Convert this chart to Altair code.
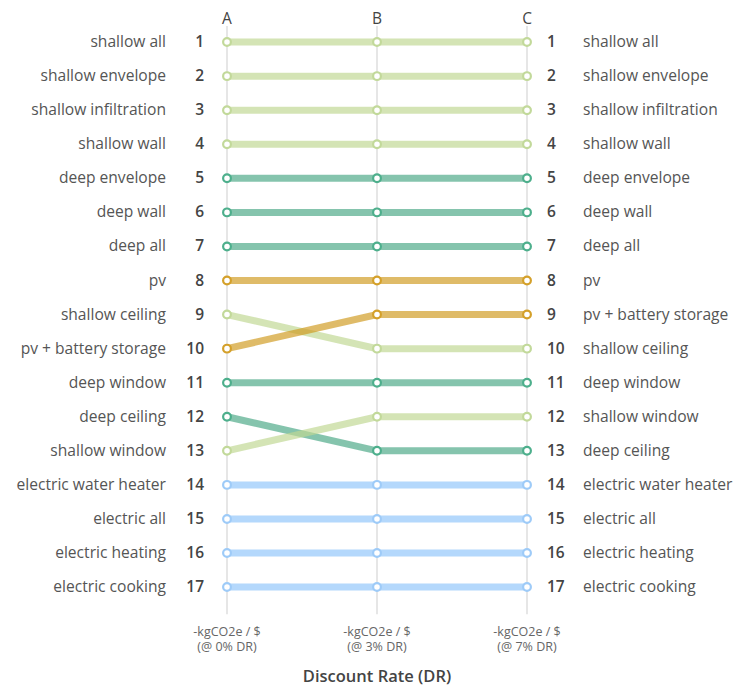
import altair as alt
import pandas as pd

options = ["shallow all", "shallow envelope", "shallow infiltration", "shallow wall",
           "deep envelope", "deep wall", "deep all", "pv", "shallow ceiling",
           "pv + battery storage", "deep window", "deep ceiling", "shallow window",
           "electric water heater", "electric all", "electric heating", "electric cooking"]
groups = ["shallow", "shallow", "shallow", "shallow", "deep", "deep", "deep", "pv", "shallow",
          "pv", "deep", "deep", "shallow", "electric", "electric", "electric", "electric"]
rank_A = [1, 2, 3, 4, 5, 6, 7, 8, 9, 10, 11, 12, 13, 14, 15, 16, 17]
rank_B = [1, 2, 3, 4, 5, 6, 7, 8, 10, 9, 11, 13, 12, 14, 15, 16, 17]
rank_C = [1, 2, 3, 4, 5, 6, 7, 8, 10, 9, 11, 13, 12, 14, 15, 16, 17]
columns = ["A", "B", "C"]
col_line1 = ["-kgCO2e / $", "-kgCO2e / $", "-kgCO2e / $"]
col_line2 = ["(@ 0% DR)", "(@ 3% DR)", "(@ 7% DR)"]
axis_title = "Discount Rate (DR)"

group_domain = ["shallow", "deep", "pv", "electric"]
group_line = ["#bfd792", "#4ba886", "#d09b20", "#91c6fb"]
group_point = ["#c2d99a", "#4daf8c", "#d4a02a", "#9ecbf8"]

rows = []
for i, name in enumerate(options):
    for c, r in enumerate([rank_A[i], rank_B[i], rank_C[i]]):
        rows.append({"option": name, "group": groups[i], "col": c, "rank": r})
df = pd.DataFrame(rows)
left = df[df.col == 0]
right = df[df.col == 2]

cols_df = pd.DataFrame({"col": [0, 1, 2], "name": columns,
                        "sub": [a + "\n" + b for a, b in zip(col_line1, col_line2)],
                        "top": [0.53] * 3, "bottom": [17.8] * 3})
title_df = pd.DataFrame({"col": [1], "t": [axis_title]})

W, H = 727, 680
step = 150.0
row_px = 34.0625
x0 = -219 / step
xscale = alt.Scale(domain=[x0, x0 + W / step], nice=False, zero=False)
yscale = alt.Scale(domain=[0, H / row_px], reverse=True, nice=False, zero=False)
X = alt.X("col:Q", scale=xscale, axis=None)
FONT = "Open Sans"

grid = alt.Chart(cols_df).mark_rule(color="#e6e6e6", strokeWidth=2).encode(
    x=X, y=alt.Y("top:Q", scale=yscale, axis=None), y2="bottom:Q")

color_line = alt.Color("group:N", scale=alt.Scale(domain=group_domain, range=group_line), legend=None)

lines = alt.Chart(df).mark_line(strokeWidth=7, opacity=0.68).encode(
    x=X, y=alt.Y("rank:Q", scale=yscale, axis=None), detail="option:N",
    color=color_line, order="col:Q")

points = alt.Chart(df).mark_point(filled=False, fill="white", fillOpacity=1, size=60, strokeWidth=2.2, opacity=1).encode(
    x=X, y=alt.Y("rank:Q", scale=yscale, axis=None),
    stroke=alt.Stroke("group:N", scale=alt.Scale(domain=group_domain, range=group_point), legend=None))

def txt(data, field, dx, align, size, bold=False, color="#555555"):
    return alt.Chart(data).mark_text(dx=dx, align=align, baseline="middle", font=FONT, fontSize=size,
                                     fontWeight=600 if bold else "normal", color=color).encode(
        x=X, y=alt.Y("rank:Q", scale=yscale, axis=None), text=f"{field}:N")

left_names = txt(left, "option", -61, "right", 15.6)
left_nums = txt(left, "rank", -23, "right", 15.5, bold=True, color="#444444")
right_nums = txt(right, "rank", 20, "left", 15.5, bold=True, color="#444444")
right_names = txt(right, "option", 56, "left", 15.6)

hdr = alt.Chart(cols_df).mark_text(font=FONT, fontSize=15.5, color="#444444", baseline="middle").encode(
    x=X, y=alt.value(10.5), text="name:N")
sub = alt.Chart(cols_df).mark_text(font=FONT, fontSize=12.5, color="#666666", baseline="middle",
                                   lineBreak="\n", lineHeight=15).encode(
    x=X, y=alt.value(623.5), text="sub:N")
ttl = alt.Chart(title_df).mark_text(font=FONT, fontSize=16.5, fontWeight=600, color="#444444", baseline="middle").encode(
    x=X, y=alt.value(669), text="t:N")

chart = alt.layer(grid, lines, points, left_names, left_nums, right_nums, right_names, hdr, sub, ttl).properties(
    width=W, height=H, autosize=alt.AutoSizeParams(type="none"), padding=0
).configure_view(stroke=None)

chart.save("out.html", embed_options={"renderer": "svg", "actions": False})
